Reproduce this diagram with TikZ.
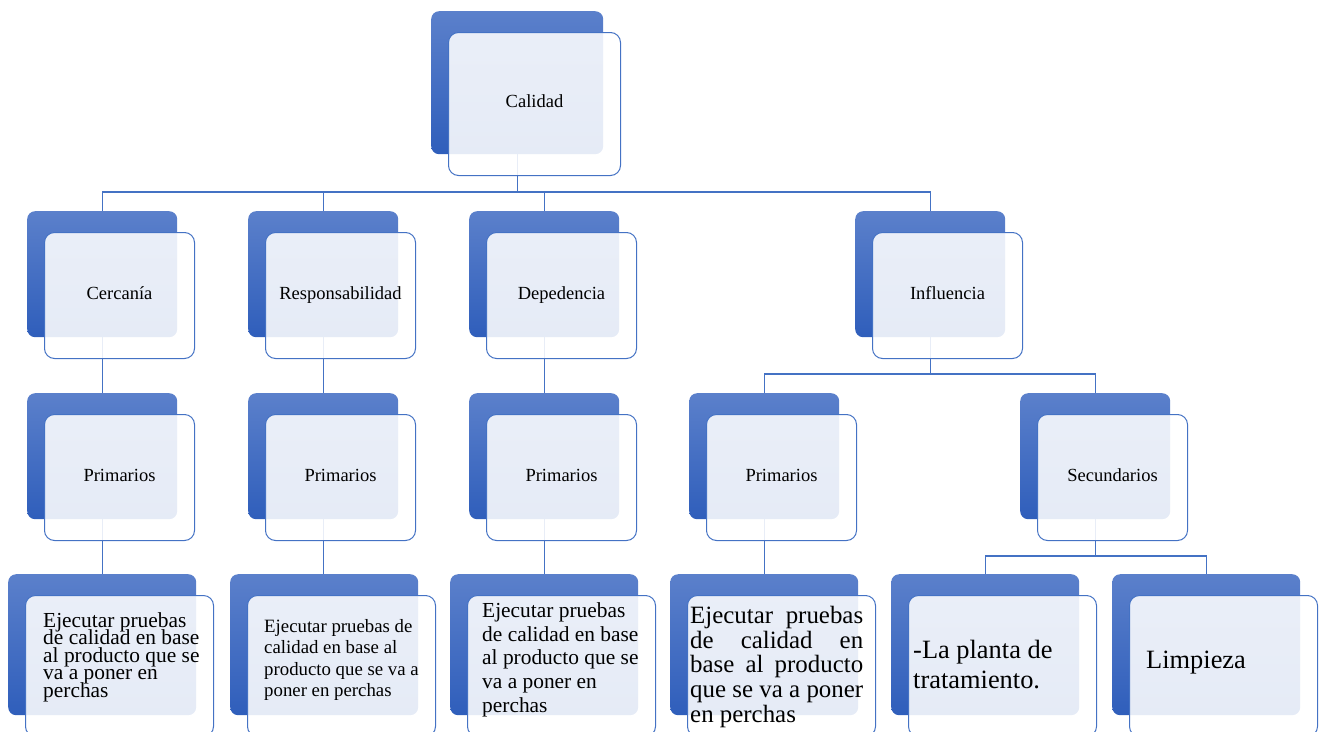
\documentclass[tikz,border=0pt]{standalone}
\usepackage{fontspec}
\setmainfont{Liberation Serif}
\usetikzlibrary{backgrounds}

\definecolor{linkblue}{HTML}{4472C4}
\definecolor{shadetop}{HTML}{5B80CB}
\definecolor{shadebot}{HTML}{2F5EBB}

% fixed line pitch, even when lines would touch
\newcommand\fixedlines{\lineskiplimit-100pt\relax\lineskip0pt\relax}
\newcommand\bodyfont[2]{\fontsize{#1}{#2}\selectfont\fixedlines}

\tikzset{
  backbox/.style={rounded corners=8pt, top color=shadetop, bottom color=shadebot,
    draw=none, inner sep=0pt, anchor=north west},
  frontbox/.style={rounded corners=10pt, draw=linkblue, line width=1pt, fill=white,
    fill opacity=0.88, text opacity=1, inner sep=0pt, anchor=north west,
    text depth=5pt, font=\fontsize{18.5}{22}\selectfont, text=black},
  link/.style={draw=linkblue, line width=1.3pt},
  body/.style={anchor=north west, inner sep=0pt, align=left, text=black},
}

% a shaded back card with a translucent front card offset down-right
\newcommand\cardpair[6]{%
  \node[backbox, minimum width=#4pt, minimum height=#5pt] (#1-b) at (#2,#3) {};
  \node[frontbox, minimum width=#4pt, minimum height=#5pt] (#1) at (#2+17,#3+21) {#6};
}

\begin{document}
\begin{tikzpicture}[x=1pt, y=-1pt]
\useasboundingbox (0,0) rectangle (1325,731);
\clip (0,0) rectangle (1325,731);

% level 1
\cardpair{calidad}{431}{11}{172}{143}{Calidad}

% level 2
\cardpair{cercania}{27}{211}{150}{126}{Cercanía}
\cardpair{responsabilidad}{248}{211}{150}{126}{Responsabilidad}
\cardpair{depedencia}{469}{211}{150}{126}{Depedencia}
\cardpair{influencia}{855}{211}{150}{126}{Influencia}

% level 3
\cardpair{primA}{27}{393}{150}{126}{Primarios}
\cardpair{primB}{248}{393}{150}{126}{Primarios}
\cardpair{primC}{469}{393}{150}{126}{Primarios}
\cardpair{primD}{689}{393}{150}{126}{Primarios}
\cardpair{secundarios}{1020}{393}{150}{126}{Secundarios}

% level 4
\cardpair{ejeA}{8}{574}{188}{141}{}
\cardpair{ejeB}{230}{574}{188}{141}{}
\cardpair{ejeC}{450}{574}{188}{141}{}
\cardpair{ejeD}{670}{574}{188}{141}{}
\cardpair{planta}{891}{574}{188}{141}{}
\cardpair{limpieza}{1112}{574}{188}{141}{}

% level 4 texts
\node[body, font={\bodyfont{21.4}{17.5}}] (tA) at (43,612)
  {Ejecutar pruebas\\de calidad en base\\al producto que se\\va a poner en\\perchas};
\node[body, font={\bodyfont{18.8}{21.3}}] (tB) at (264,619.2)
  {Ejecutar pruebas de\\calidad en base al\\producto que se va a\\poner en perchas};
\node[body, font={\bodyfont{21.4}{23.75}}] (tC) at (482,602.4)
  {Ejecutar pruebas\\de calidad en base\\al producto que se\\va a poner en\\perchas};
\node[body, font={\bodyfont{24.9}{24.75}}] (tD) at (690,606)
  {\makebox[173pt][s]{Ejecutar pruebas}\\\makebox[173pt][s]{de calidad en}\\
   \makebox[173pt][s]{base al producto}\\\makebox[173pt][s]{que se va a poner}\\en perchas};
\node[body, font={\bodyfont{26.4}{30}}] (tE) at (913,640)
  {-La planta de\\tratamiento.};
\node[anchor=base west, inner sep=0pt, text=black, font={\bodyfont{26.4}{30}}]
  (tF) at (1146,668) {Limpieza};

% connectors, kept behind the cards
\coordinate (busA) at (0,192);
\coordinate (busB) at (0,374);
\coordinate (busC) at (0,556);
\begin{scope}[on background layer]
  \draw[link] (calidad-b.center) -- (calidad-b.center |- busA);
  \draw[link] (cercania-b.north) |- (influencia-b.north |- busA) -- (influencia-b.north);
  \draw[link] (responsabilidad-b.north) -- (responsabilidad-b.north |- busA);
  \draw[link] (depedencia-b.north) -- (depedencia-b.north |- busA);

  \draw[link] (cercania-b.center) -- (primA-b.north);
  \draw[link] (responsabilidad-b.center) -- (primB-b.north);
  \draw[link] (depedencia-b.center) -- (primC-b.north);
  \draw[link] (influencia-b.center) -- (influencia-b.center |- busB);
  \draw[link] (primD-b.north) |- (secundarios-b.north |- busB) -- (secundarios-b.north);

  \draw[link] (primA-b.center) -- (primA-b.center |- ejeA-b.north);
  \draw[link] (primB-b.center) -- (primB-b.center |- ejeB-b.north);
  \draw[link] (primC-b.center) -- (primC-b.center |- ejeC-b.north);
  \draw[link] (primD-b.center) -- (primD-b.center |- ejeD-b.north);
  \draw[link] (secundarios-b.center) -- (secundarios-b.center |- busC);
  \draw[link] (planta-b.north) |- (limpieza-b.north |- busC) -- (limpieza-b.north);
\end{scope}
\end{tikzpicture}
\end{document}
